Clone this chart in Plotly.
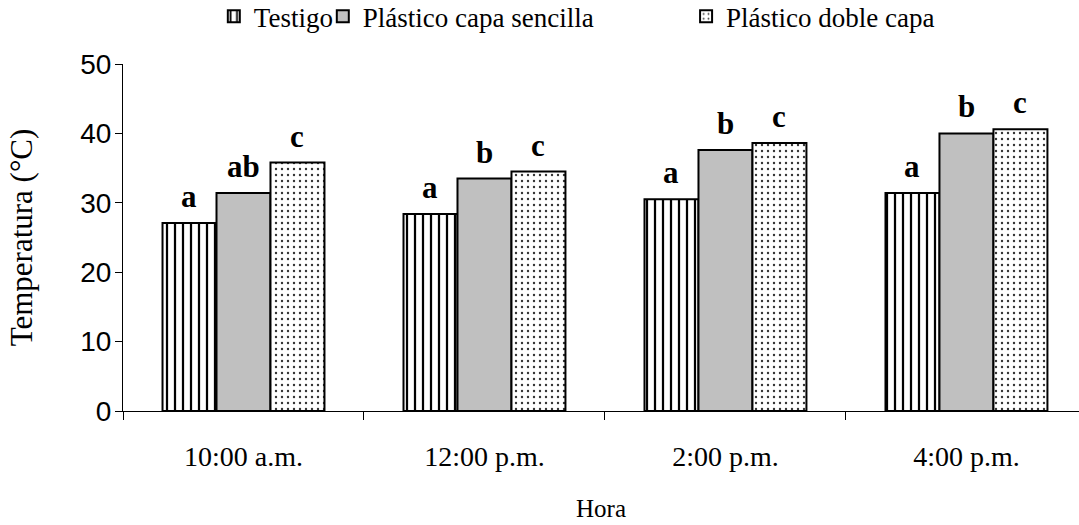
import plotly.graph_objects as go

horas = ["10:00 a.m.", "12:00 p.m.", "2:00 p.m.", "4:00 p.m."]
series = ["Testigo", "Plástico capa sencilla", "Plástico doble capa"]
testigo = [27.1, 28.4, 30.5, 31.4]
sencilla = [31.4, 33.5, 37.6, 40.0]
doble = [35.8, 34.5, 38.6, 40.6]
letras_testigo = ["a", "a", "a", "a"]
letras_sencilla = ["ab", "b", "b", "b"]
letras_doble = ["c", "c", "c", "c"]
y_ticks = [0, 10, 20, 30, 40, 50]

SERIF = "Liberation Serif, Times New Roman, serif"
SANS = "Liberation Sans, Arial, sans-serif"

valores = [testigo, sencilla, doble]
letras = [letras_testigo, letras_sencilla, letras_doble]
patterns = [
    dict(shape="|", size=8, solidity=0.28, fgcolor="black", bgcolor="white", fillmode="replace"),
    None,
    dict(shape=".", size=6, solidity=0.12, fgcolor="#333333", bgcolor="white", fillmode="replace"),
]
colors = ["white", "#c0c0c0", "white"]
legends = ["legend", "legend2", "legend3"]

fig = go.Figure()
for i, (name, vals) in enumerate(zip(series, valores)):
    marker = dict(color=colors[i], line=dict(color="black", width=2))
    if patterns[i] is not None:
        marker["pattern"] = patterns[i]
    fig.add_trace(go.Bar(x=horas, y=vals, name=name, marker=marker, legend=legends[i]))

bar_px = 54
for i in range(3):
    for j, h in enumerate(horas):
        fig.add_annotation(
            x=h, y=valores[i][j], text="<b>%s</b>" % letras[i][j],
            xref="x", yref="y", showarrow=False, yanchor="bottom",
            xshift=(i - 1) * bar_px, yshift=7,
            font=dict(family=SERIF, size=31, color="black"),
        )

leg_common = dict(orientation="h", yanchor="middle", yref="container", y=0.968,
                  xanchor="left",
                  font=dict(family=SERIF, size=27, color="black"),
                  bgcolor="rgba(0,0,0,0)", itemwidth=30)
fig.update_layout(
    width=1079, height=525,
    margin=dict(l=123, r=0, t=64, b=114, autoexpand=False),
    plot_bgcolor="white", paper_bgcolor="white",
    barmode="group", bargap=0.328, bargroupgap=0,
    showlegend=True,
    legend=dict(x=0.095, **leg_common),
    legend2=dict(x=0.209, **leg_common),
    legend3=dict(x=0.589, **leg_common),
    xaxis=dict(
        range=[-0.5, 3.467], showline=True, linecolor="black", linewidth=1,
        ticks="outside", tickson="boundaries", ticklen=8, tickcolor="black",
        tickfont=dict(family=SERIF, size=28, color="black"),
        ticklabelstandoff=20,
        title=dict(text="Hora", font=dict(family=SERIF, size=25, color="black"), standoff=28),
        showgrid=False, zeroline=False,
    ),
    yaxis=dict(
        range=[0, 50], tickvals=y_ticks, showline=True, linecolor="black", linewidth=1,
        ticks="outside", ticklen=7, tickcolor="black",
        tickfont=dict(family=SANS, size=28, color="black"),
        ticklabelstandoff=-2,
        title=dict(text="Temperatura (°C)", font=dict(family=SERIF, size=31, color="black"), standoff=38),
        showgrid=False, zeroline=False,
    ),
)
fig.write_html("out.html")
